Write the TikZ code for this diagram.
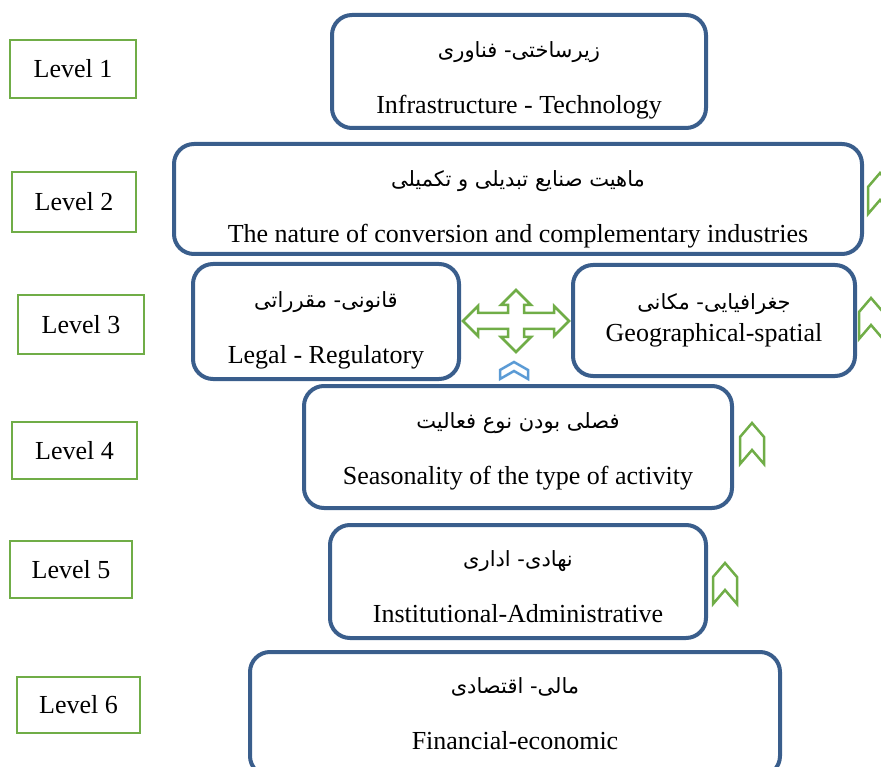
\documentclass[tikz,border=0pt]{standalone}
\usepackage{fontspec}
\setmainfont{Liberation Serif}
\newfontfamily\farsi[Script=Arabic]{DejaVu Sans}
\TeXXeTstate=1
\newcommand\fa[2][34pt]{\rule{0pt}{#1}{\farsi\fontsize{21}{25}\selectfont\beginR #2\endR}}
\usepackage{xcolor}
\usepackage{tikz}
\usetikzlibrary{calc,positioning}
\definecolor{lvlgreen}{RGB}{112,173,71}
\definecolor{boxblue}{RGB}{58,94,140}
\definecolor{chevblue}{RGB}{91,155,213}

\begin{document}
\begin{tikzpicture}[x=1pt,y=-1pt]

\tikzstyle{levelbox} = [draw=lvlgreen, line width=2.5pt, rectangle, inner sep=0pt, font=\fontsize{26}{30}\selectfont]
\tikzstyle{factor} = [draw=boxblue, line width=4pt, rounded corners=20pt, inner sep=0pt, align=center, font=\fontsize{26}{30}\selectfont]
\tikzstyle{chevron} = [draw=lvlgreen, line width=2.5pt, line join=miter]

\useasboundingbox (0,0) rectangle (881,767);
\clip (0,0) rectangle (881,767);

\node [levelbox, minimum width=126pt, minimum height=58pt] (level1) at (73,69) {Level 1};
\node [levelbox, minimum width=124pt, minimum height=60pt] (level2) at (74,202) {Level 2};
\node [levelbox, minimum width=126pt, minimum height=59pt] (level3) at (81,324.5) {Level 3};
\node [levelbox, minimum width=125pt, minimum height=57pt] (level4) at (74.5,450.5) {Level 4};
\node [levelbox, minimum width=122pt, minimum height=57pt] (level5) at (71,569.5) {Level 5};
\node [levelbox, minimum width=123pt, minimum height=56pt] (level6) at (78.5,705) {Level 6};

\node [factor, minimum width=374pt, minimum height=113pt] (infra) at (519,71.5) {\fa{زیرساختی- فناوری}\\[26pt]Infrastructure - Technology};
\node [factor, minimum width=688pt, minimum height=110pt] (nature) at (518,199) {\fa[36pt]{ماهیت صنایع تبدیلی و تکمیلی}\\[26pt]The nature of conversion and complementary industries};
\node [factor, minimum width=266pt, minimum height=115pt] (legal) at (326,321.5) {\fa{قانونی- مقرراتی}\\[26pt]Legal - Regulatory};
\node [factor, minimum width=282pt, minimum height=111pt] (geo) at (714,320.5) {\fa[0pt]{جغرافیایی- مکانی}\\[2pt]Geographical-spatial};
\node [factor, minimum width=428pt, minimum height=122pt] (season) at (518,447) {\fa[24pt]{فصلی بودن نوع فعالیت}\\[26pt]Seasonality of the type of activity};
\node [factor, minimum width=376pt, minimum height=113pt] (institution) at (518,581.5) {\fa[26pt]{نهادی- اداری}\\[26pt]Institutional-Administrative};
\node [factor, minimum width=530pt, minimum height=124pt] (finance) at (515,714) {\fa[0pt]{مالی- اقتصادی}\\[26pt]Financial-economic};

\draw [chevron, shift={($(legal.east)!0.5!(geo.west)$)}] (53,0) -- (38,-15) -- (38,-8) -- (8,-8) -- (8,-16) -- (15,-16) -- (0,-31) -- (-15,-16) -- (-8,-16) -- (-8,-8) -- (-38,-8) -- (-38,-15) -- (-53,0) -- (-38,15) -- (-38,8) -- (-8,8) -- (-8,16) -- (-15,16) -- (0,31) -- (15,16) -- (8,16) -- (8,8) -- (38,8) -- (38,15) -- cycle;
\draw [chevron, draw=chevblue, shift={(514,362)}] (-14,8) -- (0,0) -- (14,8) -- (14,17) -- (0,9) -- (-14,17) -- cycle;

\foreach \cx/\top in {880/173, 871/298, 752/423, 725/563}
  \draw [chevron, shift={(\cx,\top)}] (0,0) -- (12,14) -- (12,41) -- (0,27) -- (-12,41) -- (-12,14) -- cycle;

\end{tikzpicture}
\end{document}
